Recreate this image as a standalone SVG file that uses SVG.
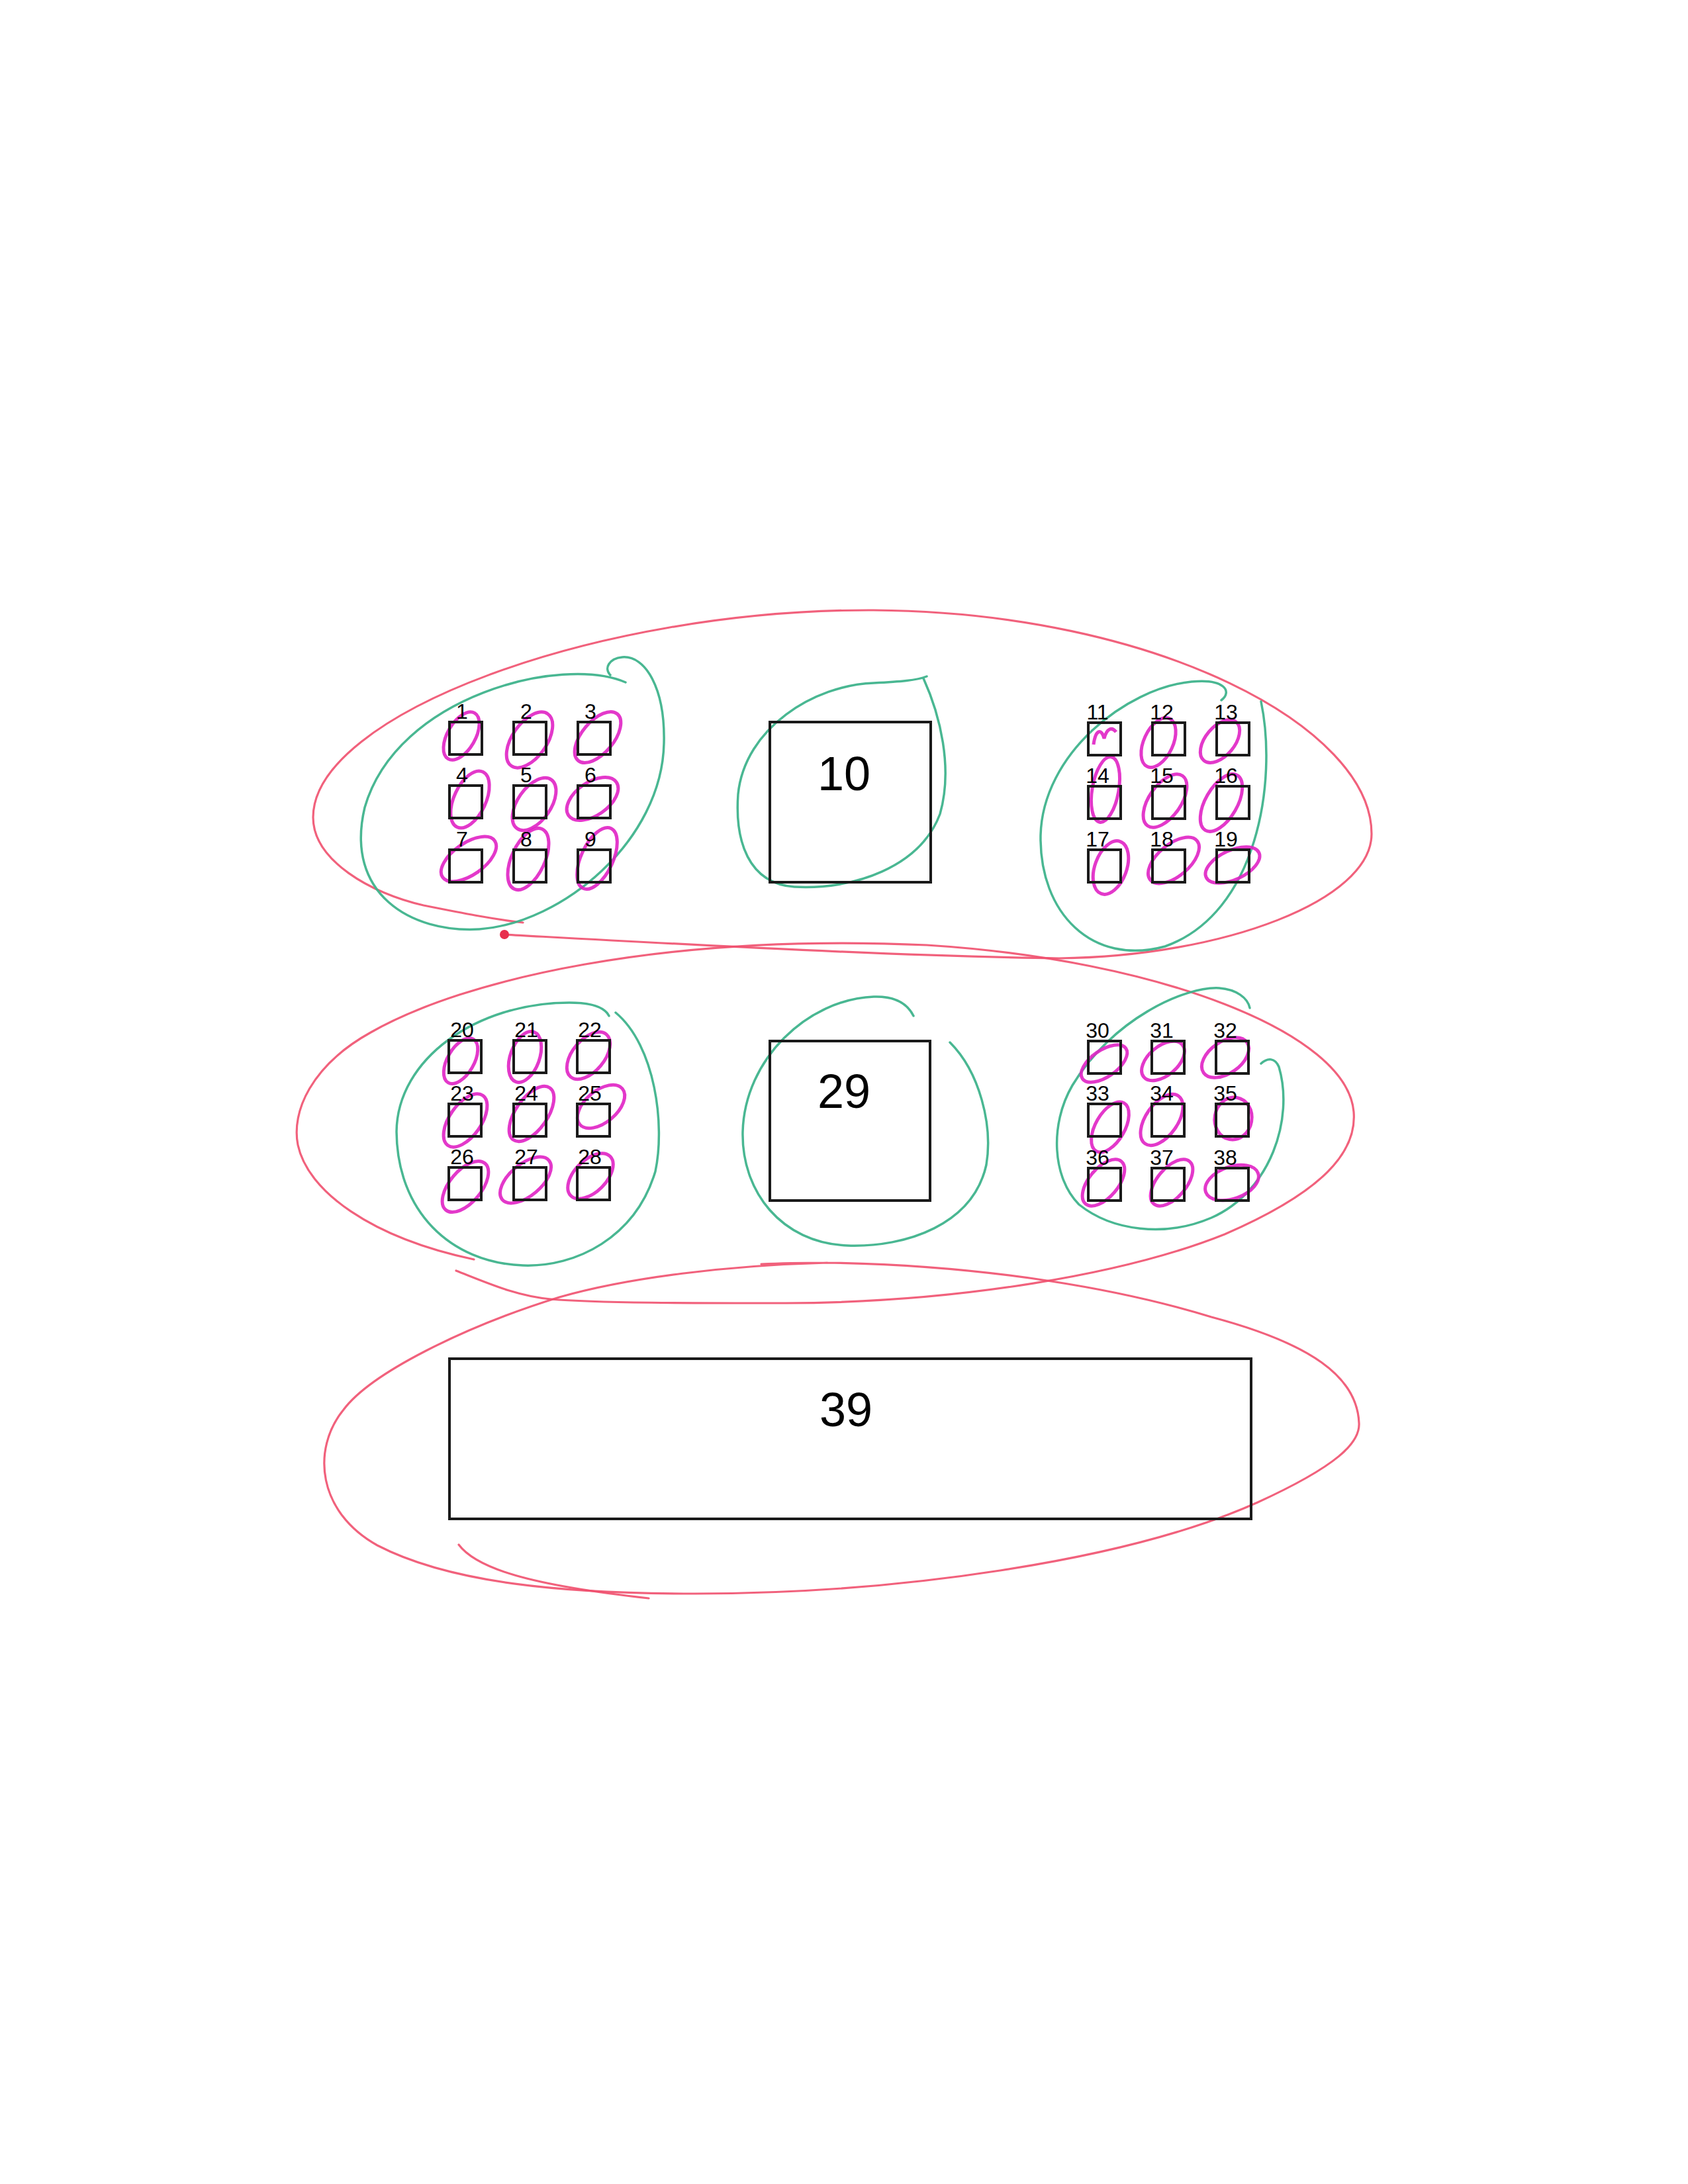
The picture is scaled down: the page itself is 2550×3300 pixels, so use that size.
<svg xmlns="http://www.w3.org/2000/svg" xmlns:xlink="http://www.w3.org/1999/xlink" width="2550" height="3300" viewBox="0 0 2550 3300">
<style>
.bx{fill:none;stroke:#1a1a1a;stroke-width:4}
.lb{font-family:"Liberation Sans",Arial,sans-serif;font-size:32px;fill:#000;text-anchor:middle}
.big{font-family:"Liberation Sans",Arial,sans-serif;font-size:72px;fill:#000;text-anchor:middle}
.red{fill:none;stroke:#f0506e;stroke-width:3.2;stroke-linecap:round;opacity:0.9}
.grn{fill:none;stroke:#3fb38c;stroke-width:3.5;stroke-linecap:round;opacity:0.95}
.mag{fill:none;stroke:#e022c4;stroke-width:5;opacity:0.9}
</style>
<rect x="0" y="0" width="2550" height="3300" fill="#ffffff"/>

<g id="red-loops">
<path class="red" d="M 760,1412 C 1000,1425 1350,1445 1600,1448 C 1850,1445 2072,1360 2072,1260 C 2072,1100 1750,925 1320,922 C 900,920 473,1080 473,1235 C 473,1300 560,1350 640,1368 C 700,1380 740,1388 790,1394"/>
<circle cx="762" cy="1412" r="7" fill="#e8304e"/>
<path class="red" d="M 689,1920 C 740,1940 780,1958 832,1963 C 900,1969 1050,1969 1187,1969 C 1450,1968 1700,1925 1850,1865 C 2000,1800 2050,1740 2045,1680 C 2035,1560 1750,1450 1400,1428 C 1000,1410 700,1480 560,1560 C 470,1610 440,1680 450,1730 C 465,1800 560,1870 716,1903"/>
<path class="red" d="M 1250,1908 C 1100,1912 950,1930 845,1960 C 700,2005 560,2075 519,2130 C 470,2190 480,2285 570,2335 C 680,2392 850,2408 1050,2408 C 1350,2408 1700,2360 1900,2270 C 2020,2215 2055,2180 2053,2150 C 2050,2080 1980,2030 1830,1990 C 1700,1950 1500,1912 1250,1908 C 1200,1908 1170,1909 1150,1910"/>
<path class="red" d="M 693,2334 C 720,2370 800,2395 980,2415"/>
</g>

<g id="green-loops">
<path class="grn" d="M 945,1031 C 850,990 600,1050 551,1220 C 520,1350 620,1410 724,1404 C 850,1395 1000,1270 1003,1123 C 1005,1040 975,990 940,993 C 920,995 912,1010 922,1020"/>
<path class="grn" d="M 1395,1025 C 1420,1080 1440,1160 1420,1230 C 1390,1310 1290,1345 1200,1340 C 1130,1335 1110,1270 1115,1200 C 1125,1100 1230,1035 1320,1032 C 1360,1030 1385,1028 1400,1022"/>
<path class="grn" d="M 1905,1060 C 1930,1180 1900,1380 1760,1430 C 1650,1460 1570,1380 1572,1262 C 1575,1140 1700,1040 1800,1030 C 1850,1025 1862,1045 1845,1058"/>
<path class="grn" d="M 930,1530 C 990,1580 1005,1700 990,1770 C 960,1870 870,1915 790,1912 C 680,1908 600,1830 599,1710 C 600,1600 720,1515 860,1515 C 900,1515 915,1525 920,1535"/>
<path class="grn" d="M 1435,1575 C 1480,1620 1500,1700 1490,1760 C 1470,1850 1370,1885 1280,1882 C 1180,1878 1120,1800 1122,1710 C 1125,1600 1220,1510 1320,1506 C 1350,1505 1370,1515 1380,1535"/>
<path class="grn" d="M 1905,1607 C 1915,1598 1926,1598 1932,1612 C 1955,1690 1920,1800 1830,1840 C 1760,1870 1680,1860 1630,1820 C 1590,1780 1585,1700 1620,1640 C 1680,1540 1790,1490 1842,1493 C 1868,1495 1885,1508 1888,1523"/>
</g>

<g id="magenta-loops">
<ellipse class="mag" cx="697" cy="1112" rx="21" ry="40" transform="rotate(30 697 1112)"/>
<ellipse class="mag" cx="800" cy="1118" rx="26" ry="48" transform="rotate(35 800 1118)"/>
<ellipse class="mag" cx="903" cy="1114" rx="24" ry="46" transform="rotate(40 903 1114)"/>
<ellipse class="mag" cx="710" cy="1208" rx="24" ry="46" transform="rotate(25 710 1208)"/>
<ellipse class="mag" cx="807" cy="1215" rx="25" ry="45" transform="rotate(35 807 1215)"/>
<ellipse class="mag" cx="895" cy="1207" rx="25" ry="44" transform="rotate(55 895 1207)"/>
<ellipse class="mag" cx="708" cy="1298" rx="24" ry="48" transform="rotate(55 708 1298)"/>
<ellipse class="mag" cx="798" cy="1298" rx="25" ry="50" transform="rotate(25 798 1298)"/>
<ellipse class="mag" cx="902" cy="1297" rx="24" ry="50" transform="rotate(25 902 1297)"/>

<path class="mag" d="M 1652,1125 C 1655,1102 1664,1100 1668,1116 C 1672,1100 1680,1098 1686,1106"/>
<ellipse class="mag" cx="1750" cy="1122" rx="22" ry="40" transform="rotate(25 1750 1122)"/>
<ellipse class="mag" cx="1843" cy="1120" rx="22" ry="38" transform="rotate(40 1843 1120)"/>
<ellipse class="mag" cx="1670" cy="1193" rx="20" ry="50" transform="rotate(10 1670 1193)"/>
<ellipse class="mag" cx="1760" cy="1210" rx="24" ry="46" transform="rotate(35 1760 1210)"/>
<ellipse class="mag" cx="1845" cy="1213" rx="24" ry="48" transform="rotate(30 1845 1213)"/>
<ellipse class="mag" cx="1678" cy="1311" rx="24" ry="42" transform="rotate(20 1678 1311)"/>
<ellipse class="mag" cx="1773" cy="1300" rx="24" ry="46" transform="rotate(50 1773 1300)"/>
<ellipse class="mag" cx="1862" cy="1307" rx="22" ry="44" transform="rotate(65 1862 1307)"/>

<ellipse class="mag" cx="696" cy="1603" rx="20" ry="38" transform="rotate(30 696 1603)"/>
<ellipse class="mag" cx="793" cy="1597" rx="22" ry="40" transform="rotate(20 793 1597)"/>
<ellipse class="mag" cx="889" cy="1595" rx="24" ry="42" transform="rotate(40 889 1595)"/>
<ellipse class="mag" cx="703" cy="1693" rx="24" ry="46" transform="rotate(35 703 1693)"/>
<ellipse class="mag" cx="803" cy="1683" rx="24" ry="48" transform="rotate(35 803 1683)"/>
<ellipse class="mag" cx="908" cy="1672" rx="24" ry="42" transform="rotate(50 908 1672)"/>
<ellipse class="mag" cx="703" cy="1793" rx="24" ry="46" transform="rotate(40 703 1793)"/>
<ellipse class="mag" cx="794" cy="1783" rx="24" ry="46" transform="rotate(50 794 1783)"/>
<ellipse class="mag" cx="892" cy="1777" rx="24" ry="42" transform="rotate(45 892 1777)"/>

<ellipse class="mag" cx="1668" cy="1607" rx="20" ry="40" transform="rotate(55 1668 1607)"/>
<ellipse class="mag" cx="1757" cy="1603" rx="22" ry="38" transform="rotate(50 1757 1603)"/>
<ellipse class="mag" cx="1851" cy="1598" rx="24" ry="40" transform="rotate(55 1851 1598)"/>
<ellipse class="mag" cx="1677" cy="1703" rx="22" ry="42" transform="rotate(30 1677 1703)"/>
<ellipse class="mag" cx="1755" cy="1692" rx="24" ry="44" transform="rotate(35 1755 1692)"/>
<ellipse class="mag" cx="1863" cy="1690" rx="28" ry="32" transform="rotate(10 1863 1690)"/>
<ellipse class="mag" cx="1667" cy="1787" rx="22" ry="42" transform="rotate(40 1667 1787)"/>
<ellipse class="mag" cx="1770" cy="1787" rx="22" ry="42" transform="rotate(40 1770 1787)"/>
<ellipse class="mag" cx="1861" cy="1787" rx="24" ry="42" transform="rotate(70 1861 1787)"/>
</g>

<g id="connectors"></g>

<g id="nodes">
<g id="n1"><rect class="bx" x="679" y="1091" width="49" height="49"/><text class="lb" x="698" y="1086">1</text></g>
<g id="n2"><rect class="bx" x="776" y="1091" width="49" height="49"/><text class="lb" x="795" y="1086">2</text></g>
<g id="n3"><rect class="bx" x="873" y="1091" width="49" height="49"/><text class="lb" x="892" y="1086">3</text></g>
<g id="n4"><rect class="bx" x="679" y="1187" width="49" height="49"/><text class="lb" x="698" y="1182">4</text></g>
<g id="n5"><rect class="bx" x="776" y="1187" width="49" height="49"/><text class="lb" x="795" y="1182">5</text></g>
<g id="n6"><rect class="bx" x="873" y="1187" width="49" height="49"/><text class="lb" x="892" y="1182">6</text></g>
<g id="n7"><rect class="bx" x="679" y="1284" width="49" height="49"/><text class="lb" x="698" y="1279">7</text></g>
<g id="n8"><rect class="bx" x="776" y="1284" width="49" height="49"/><text class="lb" x="795" y="1279">8</text></g>
<g id="n9"><rect class="bx" x="873" y="1284" width="49" height="49"/><text class="lb" x="892" y="1279">9</text></g>

<g id="n10"><rect class="bx" x="1163" y="1091" width="243" height="242"/><text class="big" x="1275" y="1194">10</text></g>

<g id="n11"><rect class="bx" x="1644" y="1092" width="49" height="49"/><text class="lb" x="1658" y="1087">11</text></g>
<g id="n12"><rect class="bx" x="1741" y="1092" width="49" height="49"/><text class="lb" x="1755" y="1087">12</text></g>
<g id="n13"><rect class="bx" x="1838" y="1092" width="49" height="49"/><text class="lb" x="1852" y="1087">13</text></g>
<g id="n14"><rect class="bx" x="1644" y="1188" width="49" height="49"/><text class="lb" x="1658" y="1183">14</text></g>
<g id="n15"><rect class="bx" x="1741" y="1188" width="49" height="49"/><text class="lb" x="1755" y="1183">15</text></g>
<g id="n16"><rect class="bx" x="1838" y="1188" width="49" height="49"/><text class="lb" x="1852" y="1183">16</text></g>
<g id="n17"><rect class="bx" x="1644" y="1284" width="49" height="49"/><text class="lb" x="1658" y="1279">17</text></g>
<g id="n18"><rect class="bx" x="1741" y="1284" width="49" height="49"/><text class="lb" x="1755" y="1279">18</text></g>
<g id="n19"><rect class="bx" x="1838" y="1284" width="49" height="49"/><text class="lb" x="1852" y="1279">19</text></g>

<g id="n20"><rect class="bx" x="678" y="1572" width="49" height="49"/><text class="lb" x="698" y="1567">20</text></g>
<g id="n21"><rect class="bx" x="776" y="1572" width="49" height="49"/><text class="lb" x="795" y="1567">21</text></g>
<g id="n22"><rect class="bx" x="872" y="1572" width="49" height="49"/><text class="lb" x="891" y="1567">22</text></g>
<g id="n23"><rect class="bx" x="678" y="1668" width="49" height="49"/><text class="lb" x="698" y="1663">23</text></g>
<g id="n24"><rect class="bx" x="776" y="1668" width="49" height="49"/><text class="lb" x="795" y="1663">24</text></g>
<g id="n25"><rect class="bx" x="872" y="1668" width="49" height="49"/><text class="lb" x="891" y="1663">25</text></g>
<g id="n26"><rect class="bx" x="678" y="1764" width="49" height="49"/><text class="lb" x="698" y="1759">26</text></g>
<g id="n27"><rect class="bx" x="776" y="1764" width="49" height="49"/><text class="lb" x="795" y="1759">27</text></g>
<g id="n28"><rect class="bx" x="872" y="1764" width="49" height="49"/><text class="lb" x="891" y="1759">28</text></g>

<g id="n29"><rect class="bx" x="1163" y="1573" width="242" height="241"/><text class="big" x="1275" y="1674">29</text></g>

<g id="n30"><rect class="bx" x="1644" y="1573" width="49" height="49"/><text class="lb" x="1658" y="1568">30</text></g>
<g id="n31"><rect class="bx" x="1740" y="1573" width="49" height="49"/><text class="lb" x="1755" y="1568">31</text></g>
<g id="n32"><rect class="bx" x="1837" y="1573" width="49" height="49"/><text class="lb" x="1851" y="1568">32</text></g>
<g id="n33"><rect class="bx" x="1644" y="1668" width="49" height="49"/><text class="lb" x="1658" y="1663">33</text></g>
<g id="n34"><rect class="bx" x="1740" y="1668" width="49" height="49"/><text class="lb" x="1755" y="1663">34</text></g>
<g id="n35"><rect class="bx" x="1837" y="1668" width="49" height="49"/><text class="lb" x="1851" y="1663">35</text></g>
<g id="n36"><rect class="bx" x="1644" y="1765" width="49" height="49"/><text class="lb" x="1658" y="1760">36</text></g>
<g id="n37"><rect class="bx" x="1740" y="1765" width="49" height="49"/><text class="lb" x="1755" y="1760">37</text></g>
<g id="n38"><rect class="bx" x="1837" y="1765" width="49" height="49"/><text class="lb" x="1851" y="1760">38</text></g>

<g id="n39"><rect class="bx" x="679" y="2053" width="1211" height="242"/><text class="big" x="1278" y="2155">39</text></g>
</g>
</svg>
